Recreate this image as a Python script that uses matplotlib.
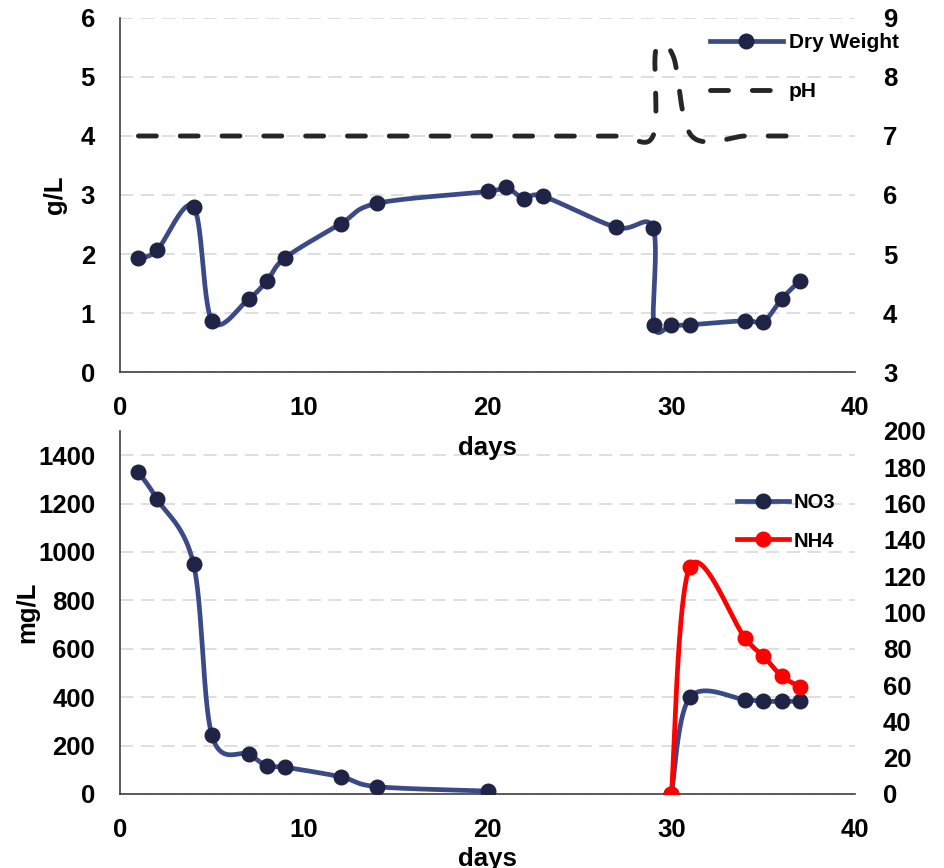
import numpy as np
import matplotlib.pyplot as plt

plt.rcParams['font.family'] = ['Liberation Sans', 'DejaVu Sans']
plt.rcParams['font.weight'] = 'bold'

# top panel: dry weight (g/L, left) and pH (right)
dw_days = [1, 2, 4, 5, 7, 8, 9, 12, 14, 20, 21, 22, 23, 27, 29, 29.05, 30, 31, 34, 35, 36, 37]
dw_vals = [1.93, 2.06, 2.80, 0.87, 1.24, 1.55, 1.94, 2.51, 2.86, 3.06, 3.13, 2.93, 2.98,
           2.45, 2.44, 0.79, 0.79, 0.80, 0.87, 0.85, 1.24, 1.55]
ph_days = [1, 2, 4, 5, 7, 8, 9, 12, 14, 20, 21, 22, 23, 27, 29, 29.15, 30.1, 31.1, 34, 35, 36, 37]
ph_vals = [7, 7, 7, 7, 7, 7, 7, 7, 7, 7, 7, 7, 7, 7, 7, 8.45, 8.35, 7.0, 7.0, 7.0, 7.0, 7.0]

# bottom panel: NO3 (mg/L, left) and NH4 (right)
no3_days = [[1, 2, 4, 5, 7, 8, 9, 12, 14, 20], [30, 31, 34, 35, 36, 37]]
no3_vals = [[1330, 1220, 950, 242, 164, 115, 110, 71, 30, 12], [0, 399, 390, 383, 383, 383]]
nh4_days = [30, 31, 34, 35, 36, 37]
nh4_vals = [0, 125, 86, 76, 65, 59]

NAVY = '#3b4a86'
DOT = '#1f2346'


def smooth(segments, n=40):
    # Excel-style smoothed line (Catmull-Rom as Bezier), markers at the data points
    out_x, out_y, marks = [], [], []
    for xs, ys in segments:
        if out_x:
            out_x.append(np.nan)
            out_y.append(np.nan)
        P = np.column_stack([xs, ys]).astype(float)
        Q = np.vstack([P[:1], P, P[-1:]])
        marks.append(len(out_x))
        out_x.append(P[0, 0])
        out_y.append(P[0, 1])
        t = np.linspace(0, 1, n + 1)[1:, None]
        for i in range(len(P) - 1):
            p0, p3 = P[i], P[i + 1]
            c1 = p0 + (Q[i + 2] - Q[i]) / 6
            c2 = p3 - (Q[i + 3] - Q[i + 1]) / 6
            pts = ((1 - t) ** 3) * p0 + 3 * ((1 - t) ** 2) * t * c1 + 3 * (1 - t) * t ** 2 * c2 + t ** 3 * p3
            out_x.extend(pts[:, 0])
            out_y.extend(pts[:, 1])
            marks.append(len(out_x) - 1)
    return np.array(out_x), np.array(out_y), marks


fig = plt.figure(figsize=(9.45, 8.68), dpi=100)
ax3 = fig.add_axes([0.127, 0.0853, 0.778, 0.4182])
ax1 = fig.add_axes([0.127, 0.5714, 0.778, 0.4079])


def style(ax, tw):
    ax.patch.set_visible(False)
    for s in ['top', 'right']:
        ax.spines[s].set_visible(False)
    for s in ['left', 'bottom']:
        ax.spines[s].set_color('#404040')
        ax.spines[s].set_linewidth(1.2)
    for s in tw.spines.values():
        s.set_visible(False)
    ax.yaxis.grid(True, color='#d9d9d9', linestyle=(0, (8, 4.5)), lw=1.2)
    ax.set_axisbelow(True)
    ax.tick_params(axis='both', length=0, labelsize=18.5)
    ax.tick_params(axis='y', pad=18)
    ax.tick_params(axis='x', pad=17)
    tw.tick_params(axis='y', length=0, labelsize=18.5, pad=20)
    ax.set_xlim(0, 40)
    ax.set_xticks([0, 10, 20, 30, 40])
    ax.set_xlabel('days', fontsize=18.5, fontweight='bold')


# top
ax2 = ax1.twinx()
style(ax1, ax2)
x, y, m = smooth([(dw_days, dw_vals)])
ax1.plot(x, y, color=NAVY, lw=3.4, marker='o', markevery=m, ms=10.5,
         mfc=DOT, mec=DOT, label='Dry Weight', zorder=3)
x, y, _ = smooth([(ph_days, ph_vals)])
ax2.plot(x, y, color='#262626', lw=3.5, linestyle=(0, (3.7, 4.9)), label='pH',
         dash_capstyle='round')
ax1.set_ylim(0, 6)
ax1.set_yticks(range(0, 7))
ax2.set_ylim(3, 9)
ax2.set_yticks(range(3, 10))
ax1.set_ylabel('g/L', fontsize=18.5, fontweight='bold', va='center')
ax1.yaxis.set_label_coords(-0.088, 0.5)
ax1.xaxis.set_label_coords(0.5, -0.18)
h1, l1 = ax1.get_legend_handles_labels()
h2, l2 = ax2.get_legend_handles_labels()
ax2.legend(h1 + h2, l1 + l2, loc='upper right', bbox_to_anchor=(1.085, 1.01), frameon=False,
           fontsize=15, handlelength=3.5, handletextpad=0.3, labelspacing=1.45)

# bottom
ax4 = ax3.twinx()
style(ax3, ax4)
x, y, m = smooth(list(zip(no3_days, no3_vals)))
ax3.plot(x, y, color=NAVY, lw=3.4, marker='o', markevery=m, ms=10.5,
         mfc=DOT, mec=DOT, label='NO3', zorder=3)
x, y, m = smooth([(nh4_days, nh4_vals)])
ax4.plot(x, y, color='#ff0000', lw=3.4, marker='o', markevery=m, ms=10.5,
         mfc='#ff0000', mec='#ff0000', label='NH4')
ax3.set_ylim(0, 1500)
ax3.set_yticks(range(0, 1401, 200))
ax4.set_ylim(0, 200)
ax4.set_yticks(range(0, 201, 20))
ax3.set_ylabel('mg/L', fontsize=18.5, fontweight='bold', va='center')
ax3.yaxis.set_label_coords(-0.126, 0.5)
ax3.xaxis.set_label_coords(0.5, -0.145)
h1, l1 = ax3.get_legend_handles_labels()
h2, l2 = ax4.get_legend_handles_labels()
ax4.legend(h1 + h2, l1 + l2, loc='upper right', bbox_to_anchor=(0.997, 0.878), frameon=False,
           fontsize=14.5, handlelength=2.6, handletextpad=0.2, labelspacing=0.95)

fig.savefig('out.png', dpi=100)
